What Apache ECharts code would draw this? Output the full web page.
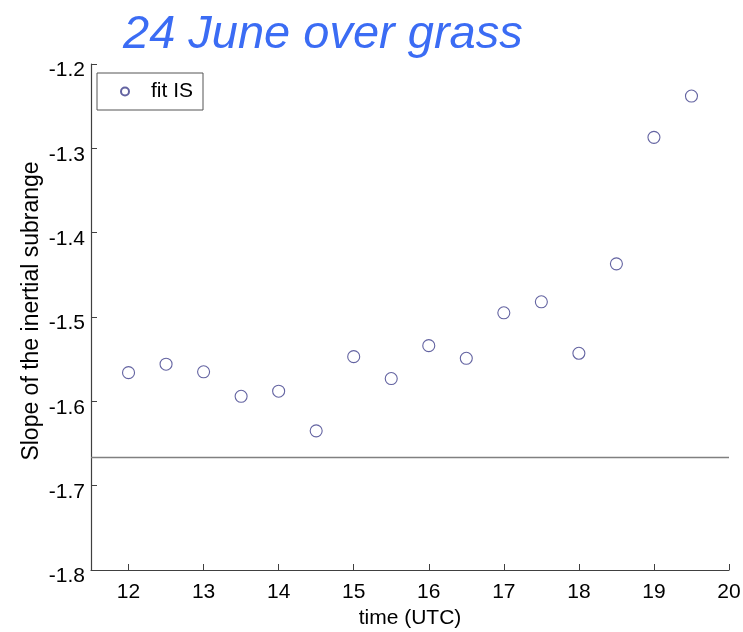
<!DOCTYPE html>
<html>
<head>
<meta charset="utf-8">
<script src="https://cdn.jsdelivr.net/npm/echarts@6/dist/echarts.min.js"></script>
<style>
  html, body { margin: 0; padding: 0; background: #fff; }
  #chart { width: 743px; height: 632px; }
</style>
</head>
<body>
<div id="chart"></div>
<script>
// time (UTC) of each fit
const times = [12, 12.5, 13, 13.5, 14, 14.5, 15, 15.5, 16, 16.5, 17, 17.5, 18, 18.5, 19, 19.5]
// fitted slope of the inertial subrange
const slopes = [-1.566, -1.556, -1.565, -1.594, -1.588, -1.635, -1.547, -1.573,
  -1.534, -1.549, -1.495, -1.482, -1.543, -1.437, -1.287, -1.238]
// Kolmogorov -5/3 reference line
const refX = [11.5, 20]
const refSlope = -5 / 3
const xTicks = [12, 13, 14, 15, 16, 17, 18, 19, 20]

const font = 'Liberation Sans, Arial, sans-serif'
const axisColor = '#404040'

const option = {
  animation: false,
  backgroundColor: '#fff',
  title: {
    text: '24 June over grass',
    left: 118,
    top: 6,
    textStyle: {
      color: '#3b6cf4',
      fontSize: 47,
      fontStyle: 'italic',
      fontWeight: 'normal',
      fontFamily: font
    }
  },
  legend: {
    data: ['fit IS'],
    left: 97,
    top: 73,
    orient: 'vertical',
    backgroundColor: '#fff',
    borderColor: '#555',
    borderWidth: 1,
    padding: [8, 10, 8, 23],
    itemWidth: 8,
    itemHeight: 8,
    textStyle: { color: '#000', fontSize: 21, fontFamily: font, padding: [0, 0, 0, 17] }
  },
  grid: {
    left: 91,
    right: 14,
    top: 64,
    bottom: 62,
    outerBoundsMode: 'none'
  },
  xAxis: {
    type: 'value',
    min: 11.5,
    max: 20,
    name: 'time (UTC)',
    nameLocation: 'middle',
    nameGap: 38,
    nameMoveOverlap: false,
    nameTextStyle: { color: '#000', fontSize: 21, fontFamily: font },
    axisLine: { lineStyle: { color: axisColor, width: 1.2 } },
    axisTick: { inside: true, length: 6, customValues: xTicks, lineStyle: { color: axisColor } },
    axisLabel: { customValues: xTicks, color: '#000', fontSize: 21, fontFamily: font, margin: 12 },
    splitLine: { show: false }
  },
  yAxis: {
    type: 'value',
    min: -1.8,
    max: -1.2,
    interval: 0.1,
    name: 'Slope of the inertial subrange',
    nameLocation: 'middle',
    nameGap: 48,
    nameMoveOverlap: false,
    nameTextStyle: { color: '#000', fontSize: 23, fontFamily: font, padding: [0, 0, 0, 12] },
    axisLine: { show: true, lineStyle: { color: axisColor, width: 1.2 } },
    axisTick: { show: true, inside: true, length: 6, lineStyle: { color: axisColor } },
    axisLabel: {
      color: '#000',
      fontSize: 21,
      fontFamily: font,
      margin: 6,
      verticalAlign: 'top',
      padding: [-4, 0, 0, 0],
      formatter: v => v.toFixed(1)
    },
    splitLine: { show: false }
  },
  series: [
    {
      name: 'fit IS',
      type: 'scatter',
      symbol: 'circle',
      symbolSize: 12,
      itemStyle: { color: 'rgba(255,255,255,0)', borderColor: '#3c3c8a', borderWidth: 1.1 },
      data: times.map((t, i) => [t, slopes[i]]),
      z: 3
    },
    {
      name: '-5/3',
      type: 'line',
      symbol: 'none',
      lineStyle: { color: '#808080', width: 1.5 },
      data: refX.map(x => [x, refSlope]),
      z: 2
    }
  ]
}

const chart = echarts.init(document.getElementById('chart'))
chart.setOption(option)
</script>
</body>
</html>
